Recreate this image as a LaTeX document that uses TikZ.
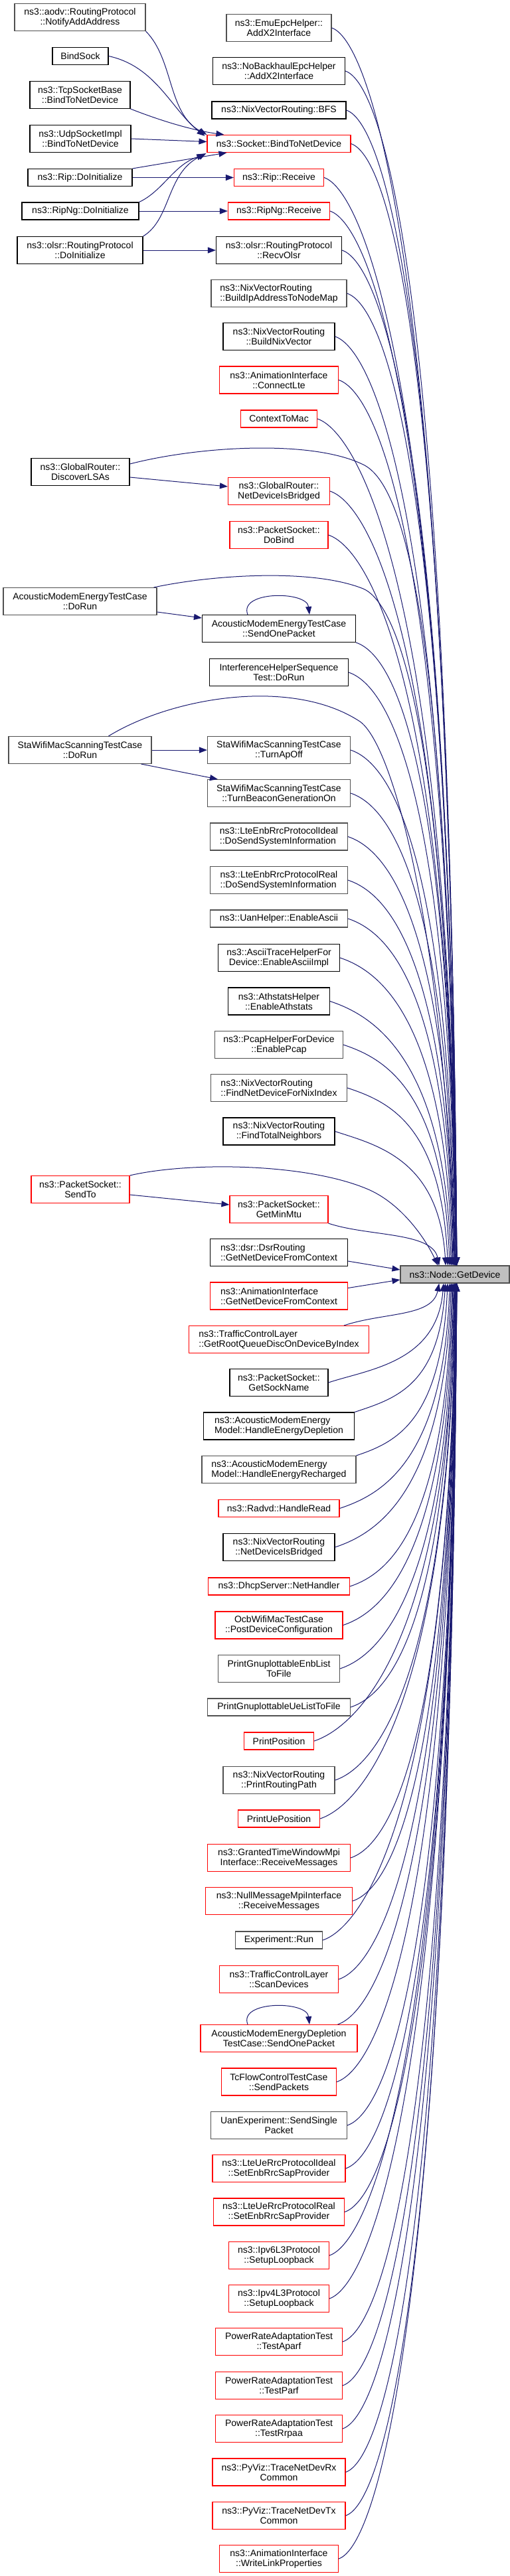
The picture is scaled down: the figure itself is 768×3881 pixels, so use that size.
\documentclass[tikz,border=0pt]{standalone}
\usepackage{fontspec}
\setmainfont{Liberation Sans}
\usetikzlibrary{arrows.meta,calc}
\definecolor{navyc}{HTML}{191970}
\definecolor{gdfill}{HTML}{BFBFBF}
\definecolor{grayline}{HTML}{505050}
\definecolor{redline}{HTML}{FF0000}
\tikzset{
  box/.style={draw=black, fill=white, line width=1.1pt, inner xsep=4pt, inner ysep=1pt,
    align=center, font=\fontsize{14}{15}\selectfont, minimum height=26pt},
  two/.style={minimum height=41pt},
  grayb/.style={draw=grayline},
  redb/.style={draw=redline},
  lft/.style={align=left},
  gdbox/.style={box, fill=gdfill, draw=grayline},
  arr/.style={draw=navyc, line width=1pt, -{Triangle[length=12pt,width=9pt,fill=navyc]}},
}
\newcommand\gdup[1]{\draw[arr] let \p1=(#1), \p3=(gd.north), \n1={\y1-(\y3)},
  \n2={\x3+3pt-33*exp(-\n1/300)} in
  (\p1) .. controls (\x1+60pt,\y1-20pt) and (\n2-10pt,\y1-0.2*\n1) .. (\n2+0pt,\y3);}
\newcommand\gddown[1]{\draw[arr] let \p1=(#1), \p3=(gd.south), \n1={\y3-(\y1)},
  \n2={\x3+3pt-33*exp(-\n1/300)} in
  (\p1) .. controls (\x1+60pt,\y1+20pt) and (\n2-10pt,\y1+0.2*\n1) .. (\n2+0pt,\y3);}
\begin{document}
\begin{tikzpicture}[x=1pt,y=-1pt]
\useasboundingbox (0,0) rectangle (768,3881);
% left column
\node[box,grayb,two,minimum width=197pt] (aodv) at (120.5,26) {ns3::aodv::RoutingProtocol\\::NotifyAddAddress};
\node[box,minimum width=84pt] (bindsock) at (121,84.5) {BindSock};
\node[box,two,minimum width=151pt] (tcp) at (120.5,143) {ns3::TcpSocketBase\\::BindToNetDevice};
\node[box,two,minimum width=152pt] (udp) at (121,209) {ns3::UdpSocketImpl\\::BindToNetDevice};
\node[box,minimum width=157pt] (ripinit) at (120.5,267.5) {ns3::Rip::DoInitialize};
\node[box,minimum width=176pt] (ripnginit) at (121,318) {ns3::RipNg::DoInitialize};
\node[box,two,minimum width=189pt] (olsrinit) at (120.5,377) {ns3::olsr::RoutingProtocol\\::DoInitialize};
\node[box,two,minimum width=148pt] (discover) at (121,711) {ns3::GlobalRouter::\\DiscoverLSAs};
\node[box,grayb,two,minimum width=231pt] (amdorun) at (120.5,906) {AcousticModemEnergyTestCase\\::DoRun};
\node[box,grayb,two,minimum width=215pt] (stadorun) at (120.5,1130) {StaWifiMacScanningTestCase\\::DoRun};
\node[box,redb,two,minimum width=148pt] (sendto) at (121,1792) {ns3::PacketSocket::\\SendTo};
% middle column
\node[box,grayb,two,minimum width=158pt] (emu) at (420,42) {ns3::EmuEpcHelper::\\AddX2Interface};
\node[box,two,minimum width=199pt] (nobackhaul) at (420,107) {ns3::NoBackhaulEpcHelper\\::AddX2Interface};
\node[box,minimum width=202pt] (bfs) at (420,166) {ns3::NixVectorRouting::BFS};
\node[box,redb,minimum width=216pt] (socket) at (420,216.5) {ns3::Socket::BindToNetDevice};
\node[box,redb,minimum width=135pt] (ripreceive) at (420,267.5) {ns3::Rip::Receive};
\node[box,redb,minimum width=153pt] (ripngreceive) at (420,318) {ns3::RipNg::Receive};
\node[box,two,minimum width=189pt] (recvolsr) at (420,377) {ns3::olsr::RoutingProtocol\\::RecvOlsr};
\node[box,grayb,two,lft,minimum width=204pt] (buildip) at (420,442) {ns3::NixVectorRouting\\::BuildIpAddressToNodeMap};
\node[box,two,minimum width=168pt] (buildnix) at (420,507) {ns3::NixVectorRouting\\::BuildNixVector};
\node[box,redb,two,minimum width=179pt] (connectlte) at (420,572.5) {ns3::AnimationInterface\\::ConnectLte};
\node[box,redb,minimum width=115pt] (contexttomac) at (420,631) {ContextToMac};
\node[box,redb,two,minimum width=153pt] (grbridged) at (420,740) {ns3::GlobalRouter::\\NetDeviceIsBridged};
\node[box,redb,two,minimum width=148pt] (dobind) at (420,806) {ns3::PacketSocket::\\DoBind};
\node[box,two,minimum width=231pt] (amsend) at (420,947) {AcousticModemEnergyTestCase\\::SendOnePacket};
\node[box,two,minimum width=209pt] (interf) at (420,1013) {InterferenceHelperSequence\\Test::DoRun};
\node[box,grayb,two,minimum width=215pt] (turnapoff) at (420,1130) {StaWifiMacScanningTestCase\\::TurnApOff};
\node[box,grayb,two,minimum width=215pt] (turnbeacon) at (420,1195) {StaWifiMacScanningTestCase\\::TurnBeaconGenerationOn};
\node[box,grayb,two,lft,minimum width=207pt] (lteenbideal) at (420,1260.5) {ns3::LteEnbRrcProtocolIdeal\\::DoSendSystemInformation};
\node[box,grayb,two,lft,minimum width=207pt] (lteenbreal) at (420,1326) {ns3::LteEnbRrcProtocolReal\\::DoSendSystemInformation};
\node[box,grayb,minimum width=207pt] (uanascii) at (420,1384) {ns3::UanHelper::EnableAscii};
\node[box,two,minimum width=183pt] (asciitrace) at (420,1443) {ns3::AsciiTraceHelperFor\\Device::EnableAsciiImpl};
\node[box,two,minimum width=153pt] (athstats) at (420,1508.5) {ns3::AthstatsHelper\\::EnableAthstats};
\node[box,grayb,two,minimum width=193pt] (pcap) at (420,1574) {ns3::PcapHelperForDevice\\::EnablePcap};
\node[box,grayb,two,lft,minimum width=205pt] (findnix) at (420,1639) {ns3::NixVectorRouting\\::FindNetDeviceForNixIndex};
\node[box,two,minimum width=168pt] (findneigh) at (420,1704.5) {ns3::NixVectorRouting\\::FindTotalNeighbors};
\node[box,redb,two,minimum width=148pt] (getminmtu) at (420,1822) {ns3::PacketSocket::\\GetMinMtu};
\node[box,two,lft,minimum width=207pt] (dsr) at (420,1887) {ns3::dsr::DsrRouting\\::GetNetDeviceFromContext};
\node[gdbox,minimum width=164pt] (gd) at (685,1920) {ns3::Node::GetDevice};
\node[box,redb,two,lft,minimum width=207pt] (animgetnet) at (420,1952.5) {ns3::AnimationInterface\\::GetNetDeviceFromContext};
\node[box,redb,two,lft,minimum width=271pt] (tcgetroot) at (420,2018) {ns3::TrafficControlLayer\\::GetRootQueueDiscOnDeviceByIndex};
\node[box,two,minimum width=148pt] (getsockname) at (420,2083) {ns3::PacketSocket::\\GetSockName};
\node[box,two,lft,minimum width=227pt] (handledepl) at (420,2148.5) {ns3::AcousticModemEnergy\\Model::HandleEnergyDepletion};
\node[box,grayb,two,lft,minimum width=232pt] (handlerech) at (420,2214) {ns3::AcousticModemEnergy\\Model::HandleEnergyRecharged};
\node[box,redb,minimum width=182pt] (radvd) at (420,2272.5) {ns3::Radvd::HandleRead};
\node[box,two,minimum width=168pt] (nixbridged) at (420,2331) {ns3::NixVectorRouting\\::NetDeviceIsBridged};
\node[box,redb,minimum width=213pt] (dhcp) at (420,2390) {ns3::DhcpServer::NetHandler};
\node[box,redb,two,minimum width=192pt] (ocb) at (420,2448.5) {OcbWifiMacTestCase\\::PostDeviceConfiguration};
\node[box,grayb,two,minimum width=183pt] (enblist) at (420,2514) {PrintGnuplottableEnbList\\ToFile};
\node[box,grayb,minimum width=215pt] (uelist) at (420,2572) {PrintGnuplottableUeListToFile};
\node[box,redb,minimum width=105pt] (printpos) at (420,2623) {PrintPosition};
\node[box,grayb,two,minimum width=168pt] (printroute) at (420,2682) {ns3::NixVectorRouting\\::PrintRoutingPath};
\node[box,redb,minimum width=123pt] (printuepos) at (420,2740) {PrintUePosition};
\node[box,redb,two,minimum width=215pt] (granted) at (420,2799) {ns3::GrantedTimeWindowMpi\\Interface::ReceiveMessages};
\node[box,redb,two,minimum width=221pt] (nullmsg) at (420,2864) {ns3::NullMessageMpiInterface\\::ReceiveMessages};
\node[box,grayb,minimum width=131pt] (exprun) at (420,2923) {Experiment::Run};
\node[box,redb,two,minimum width=179pt] (scandev) at (420,2982) {ns3::TrafficControlLayer\\::ScanDevices};
\node[box,redb,two,minimum width=236pt] (amdepl) at (420,3071) {AcousticModemEnergyDepletion\\TestCase::SendOnePacket};
\node[box,redb,two,minimum width=173pt] (tcflow) at (420,3136.5) {TcFlowControlTestCase\\::SendPackets};
\node[box,grayb,two,minimum width=205pt] (uanexp) at (420,3202) {UanExperiment::SendSingle\\Packet};
\node[box,redb,two,minimum width=200pt] (lteueideal) at (420,3267) {ns3::LteUeRrcProtocolIdeal\\::SetEnbRrcSapProvider};
\node[box,redb,two,minimum width=197pt] (lteuereal) at (420,3332.5) {ns3::LteUeRrcProtocolReal\\::SetEnbRrcSapProvider};
\node[box,redb,two,minimum width=151pt] (ipv6) at (420,3398) {ns3::Ipv6L3Protocol\\::SetupLoopback};
\node[box,redb,two,minimum width=151pt] (ipv4) at (420,3463) {ns3::Ipv4L3Protocol\\::SetupLoopback};
\node[box,redb,two,minimum width=191pt] (aparf) at (420,3528) {PowerRateAdaptationTest\\::TestAparf};
\node[box,redb,two,minimum width=191pt] (parf) at (420,3594) {PowerRateAdaptationTest\\::TestParf};
\node[box,redb,two,minimum width=191pt] (rrpaa) at (420,3659) {PowerRateAdaptationTest\\::TestRrpaa};
\node[box,redb,two,minimum width=200pt] (rx) at (420,3724.5) {ns3::PyViz::TraceNetDevRx\\Common};
\node[box,redb,two,minimum width=200pt] (tx) at (420,3790) {ns3::PyViz::TraceNetDevTx\\Common};
\node[box,redb,two,minimum width=179pt] (writelink) at (420,3855) {ns3::AnimationInterface\\::WriteLinkProperties};
% left -> middle
\draw[arr] (aodv.south east) .. controls (262,90) and (252,170) .. (socket.north west);
\draw[arr] (bindsock.east) .. controls (235,100) and (258,165) .. ($(socket.north west)+(-3,2)$);
\draw[arr] (tcp.south east) .. controls (250,185) and (295,197) .. ($(socket.north west)+(26,0)$);
\draw[arr] (udp.east) -- ($(socket.west)+(0,-3)$);
\draw[arr] (ripinit.north east) -- ($(socket.south west)+(30,0)$);
\draw[arr] (ripinit) -- (ripreceive);
\draw[arr] (ripnginit.north east) .. controls (245,288) and (262,248) .. ($(socket.south west)+(-3,3)$);
\draw[arr] (olsrinit.north east) .. controls (258,330) and (250,262) .. ($(socket.south west)+(-1,1)$);
\draw[arr] (ripnginit) -- (ripngreceive);
\draw[arr] (olsrinit) -- (recvolsr);
\draw[arr] ($(discover.east)+(0,8)$) -- ($(grbridged.west)+(0,-7)$);
\draw[arr] ($(amdorun.east)+(0,16)$) -- ($(amsend.west)+(0,-16)$);
\draw[arr] (stadorun) -- (turnapoff);
\draw[arr] ($(stadorun.south east)+(-16,0)$) -- ($(turnbeacon.north west)+(16,0)$);
\draw[arr] ($(sendto.east)+(0,8)$) -- ($(getminmtu.west)+(0,-7)$);
% self loops
\draw[arr] ($(amsend.north)+(-47,0)$) .. controls +(-14,-36) and +(-4,-36) .. ($(amsend.north)+(46,0)$);
\draw[arr] ($(amdepl.north)+(-47,0)$) .. controls +(-14,-36) and +(-4,-36) .. ($(amdepl.north)+(46,0)$);
% long arcs from the left column
\draw[arr] ($(discover.east)+(0,-12)$) .. controls (300,672) and (470,662) .. (547,700) .. controls (610,730) and (677,950) .. ($(gd.north)+(2,0)$);
\draw[arr] ($(amdorun.north east)+(-5,0)$) .. controls (320,866) and (470,856) .. (547,887) .. controls (605,912) and (676,1130) .. ($(gd.north)+(2,0)$);
\draw[arr] ($(stadorun.north)+(43,0)$) .. controls (260,1050) and (440,1020) .. (542,1087) .. controls (592,1122) and (668,1400) .. (gd.north);
\draw[arr] (sendto.north east) .. controls (285,1750) and (465,1752) .. (557,1793) .. controls (605,1815) and (640,1865) .. ($(gd.north west)+(57,0)$);
% middle -> GetDevice (above)
\gdup{emu.east}
\gdup{nobackhaul.east}
\gdup{bfs.east}
\gdup{socket.east}
\gdup{ripreceive.east}
\gdup{ripngreceive.east}
\gdup{recvolsr.east}
\gdup{buildip.east}
\gdup{buildnix.east}
\gdup{connectlte.east}
\gdup{contexttomac.east}
\gdup{grbridged.east}
\gdup{dobind.east}
\gdup{amsend.south east}
\gdup{interf.east}
\gdup{turnapoff.east}
\gdup{turnbeacon.east}
\gdup{lteenbideal.east}
\gdup{lteenbreal.east}
\gdup{uanascii.east}
\gdup{asciitrace.east}
\gdup{athstats.east}
\gdup{pcap.east}
\gdup{findnix.east}
\gdup{findneigh.east}
\gdup{getminmtu.south east}
\draw[arr] ($(dsr.east)+(0,13)$) -- ($(gd.west)+(0,-7)$);
% middle -> GetDevice (below)
\draw[arr] ($(animgetnet.east)+(0,-12)$) -- ($(gd.west)+(0,8)$);
\gddown{$(tcgetroot.north east)+(-38,0)$}
\gddown{getsockname.east}
\gddown{handledepl.north east}
\gddown{handlerech.north east}
\gddown{radvd.east}
\gddown{nixbridged.east}
\gddown{dhcp.east}
\gddown{ocb.east}
\gddown{enblist.east}
\gddown{uelist.east}
\gddown{printpos.east}
\gddown{printroute.east}
\gddown{printuepos.east}
\gddown{granted.east}
\gddown{nullmsg.east}
\gddown{exprun.east}
\gddown{scandev.east}
\gddown{$(amdepl.north east)+(-30,0)$}
\gddown{tcflow.east}
\gddown{uanexp.east}
\gddown{lteueideal.east}
\gddown{lteuereal.east}
\gddown{ipv6.east}
\gddown{ipv4.east}
\gddown{aparf.east}
\gddown{parf.east}
\gddown{rrpaa.east}
\gddown{rx.east}
\gddown{tx.east}
\gddown{writelink.east}
\end{tikzpicture}
\end{document}
